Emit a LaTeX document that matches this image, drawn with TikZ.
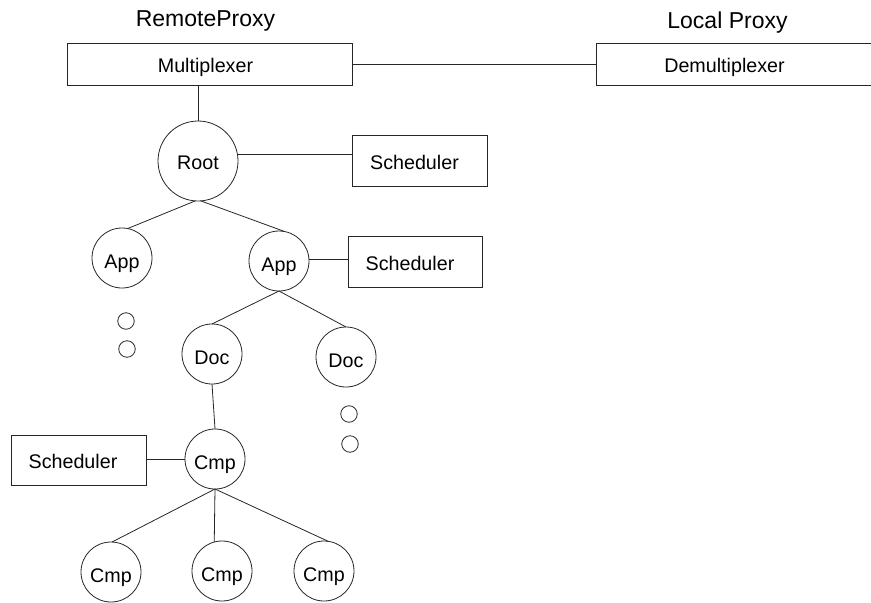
\documentclass[tikz,border=0pt]{standalone}
\usepackage{fontspec}
\setmainfont{Liberation Sans}
\begin{document}
\begin{tikzpicture}[x=1pt,y=-1pt,
  every node/.style={inner sep=0pt, outer sep=0pt},
  conn/.style={draw=black!85, line width=0.8pt},
  lbl/.style={font=\fontsize{19.7}{24}\selectfont},
  title/.style={font=\fontsize{23}{28}\selectfont, anchor=base},
  boxnode/.style={lbl, draw=black!85, line width=0.8pt, rectangle, align=center, text height=17pt, text depth=0pt},
  comp/.style={lbl, draw=black!85, line width=0.8pt, circle, minimum size=60pt, text height=20pt, text depth=0pt},
  dot/.style={draw=black!85, line width=0.8pt, circle, minimum size=16.5pt}]
\useasboundingbox (0,0) rectangle (871,603);
\clip (0,0) rectangle (871,603);

% titles
\node[title] (tremote) at (205.5,26.7) {RemoteProxy};
\node[title] (tlocal) at (727.5,28.3) {Local Proxy};

% proxies
\node[boxnode, minimum width=285pt, minimum height=42pt] (mux) at (209.5,64) {Multiplexer\hspace*{8pt}};
\node[boxnode, minimum width=300pt, minimum height=42pt] (demux) at (746,64) {Demultiplexer\hspace*{43pt}};

% schedulers
\node[boxnode, minimum width=135pt, minimum height=51pt] (sch1) at (419.5,160.5) {Scheduler\hspace*{10pt}};
\node[boxnode, minimum width=134pt, minimum height=51pt] (sch2) at (415,261.5) {Scheduler\hspace*{10pt}};
\node[boxnode, minimum width=135pt, minimum height=50pt] (sch3) at (78.5,460) {Scheduler\hspace*{11pt}};

% tree nodes
\node[comp, minimum size=80pt, text height=17pt] (root) at (198,161) {Root};
\node[comp] (appL) at (122,258) {App};
\node[comp] (appR) at (279,261) {App};
\node[comp] (docL) at (212,354) {Doc};
\node[comp] (docR) at (346,357) {Doc};
\node[comp] (cmp) at (215,459) {Cmp};
\node[comp] (c1) at (111,572) {Cmp};
\node[comp] (c2) at (222,571) {Cmp};
\node[comp] (c3) at (324,571) {Cmp};

% ellipsis circles
\node[dot] (d1) at (126,321) {};
\node[dot] (d2) at (127,349) {};
\node[dot] (d3) at (349,414) {};
\node[dot] (d4) at (350,444) {};

% connectors
\draw[conn] (mux.east) -- (demux.west);
\draw[conn] (root.north) -- (root.north |- mux.south);
\draw[conn] (root.10) -- (root.10 -| sch1.west);
\draw[conn] (root.266) -- (appL.79);
\draw[conn] (root.274) -- (appR.79);
\draw[conn] (appR.4) -- (appR.4 -| sch2.west);
\draw[conn] (appR.south) -- (docL.north);
\draw[conn] (appR.south) -- (docR.north);
\draw[conn] (docL.south) -- (cmp.north);
\draw[conn] (cmp.west -| sch3.east) -- (cmp.west);
\draw[conn] (cmp.south) -- (c1.88);
\draw[conn] (cmp.south) -- (c2.105);
\draw[conn] (cmp.south) -- (c3.82);
\end{tikzpicture}
\end{document}
